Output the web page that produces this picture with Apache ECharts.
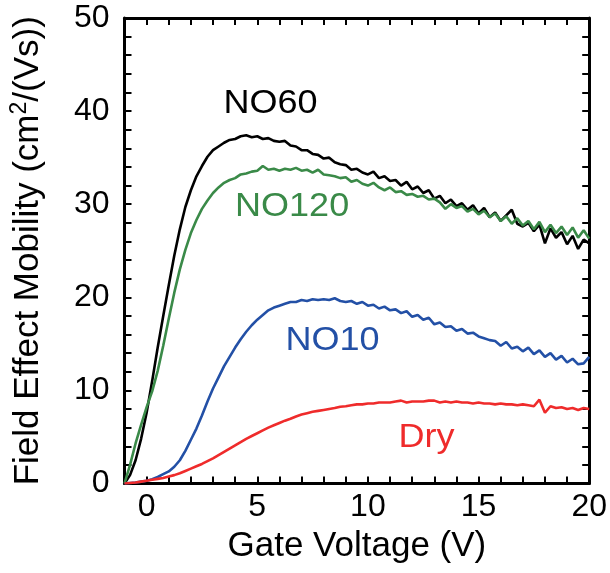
<!DOCTYPE html>
<html><head><meta charset="utf-8">
<script src="https://cdn.jsdelivr.net/npm/echarts@6/dist/echarts.min.js"></script>
<style>html,body{margin:0;padding:0;background:#fff}#c{width:610px;height:573px}</style>
</head><body><div id="c"></div>
<script>
// Gate voltage (V)
const gateVoltage = [
  -1, -0.75, -0.5, -0.25,
  0, 0.25, 0.5, 0.75,
  1, 1.25, 1.5, 1.75,
  2, 2.25, 2.5, 2.75,
  3, 3.25, 3.5, 3.75,
  4, 4.25, 4.5, 4.75,
  5, 5.25, 5.5, 5.75,
  6, 6.25, 6.5, 6.75,
  7, 7.25, 7.5, 7.75,
  8, 8.25, 8.5, 8.75,
  9, 9.25, 9.5, 9.75,
  10, 10.25, 10.5, 10.75,
  11, 11.25, 11.5, 11.75,
  12, 12.25, 12.5, 12.75,
  13, 13.25, 13.5, 13.75,
  14, 14.25, 14.5, 14.75,
  15, 15.25, 15.5, 15.75,
  16, 16.25, 16.5, 16.75,
  17, 17.25, 17.5, 17.75,
  18, 18.25, 18.5, 18.75,
  19, 19.25, 19.5, 19.75,
  20
];
// Field effect mobility (cm2/(Vs))
const no60 = [
  0, 0.9, 2.5, 4.8,
  7.6, 11.0, 14.6, 18.0,
  21.3, 24.5, 27.3, 29.7,
  31.5, 33.0, 34.1, 35.1,
  35.8, 36.2, 36.6, 36.9,
  37.0, 37.3, 37.4, 37.2,
  37.3, 37.0, 37.1, 36.8,
  36.7, 36.8, 36.3, 36.2,
  35.8, 35.8, 35.4, 35.3,
  34.9, 35.0, 34.5, 34.3,
  34.2, 33.7, 33.8, 33.4,
  33.2, 33.5, 32.8, 33.0,
  32.5, 32.6, 32.0, 32.4,
  31.6, 31.9, 31.2, 31.5,
  30.6, 30.9, 30.1, 30.5,
  29.8, 30.1, 29.4, 29.9,
  29.0, 29.6, 28.6, 29.1,
  28.2, 28.8, 29.4, 27.9,
  27.6, 28.0, 27.1, 27.8,
  25.8, 27.4, 26.4, 27.0,
  25.7, 26.6, 25.2, 26.2,
  25.8
];
const no120 = [
  0, 2.0, 4.3, 6.3,
  8.2, 9.9, 12.1, 14.8,
  17.7, 20.5, 23.0, 25.1,
  26.9, 28.3, 29.5, 30.4,
  31.2, 31.8, 32.3, 32.6,
  32.8, 33.2, 33.3, 33.5,
  33.6, 34.1, 33.7, 33.8,
  33.6, 33.8, 33.7, 33.9,
  33.6, 33.7, 33.4, 33.7,
  33.2, 33.1, 33.0, 32.8,
  32.9, 32.4, 32.6, 32.2,
  32.0, 32.3, 31.8, 31.5,
  31.8, 31.3, 31.4, 31.0,
  31.1, 30.8, 30.9, 30.5,
  30.6, 30.2, 29.5, 30.0,
  29.6, 29.8, 29.2, 29.5,
  28.9, 29.3, 28.6, 29.0,
  28.2, 28.7, 27.9, 28.5,
  27.7, 28.2, 27.3, 28.1,
  27.0, 27.8, 26.9, 27.6,
  26.7, 27.5, 26.4, 27.2,
  26.3
];
const no10 = [
  0, 0.05, 0.1, 0.2,
  0.3, 0.45, 0.7, 1.0,
  1.3, 1.8, 2.5, 3.5,
  4.7, 5.9, 7.3, 8.8,
  10.2, 11.4, 12.6, 13.6,
  14.6, 15.5, 16.3, 17.0,
  17.6, 18.1, 18.6, 18.9,
  19.1, 19.3, 19.5, 19.5,
  19.7, 19.6, 19.8, 19.7,
  19.8, 19.7, 19.9, 19.6,
  19.5, 19.6, 19.3, 19.5,
  19.1, 19.2, 18.8, 19.0,
  18.6, 18.7, 18.3, 18.5,
  17.9, 18.1, 17.6, 17.8,
  17.1, 17.3, 16.8, 16.9,
  16.4, 16.6, 16.1, 16.2,
  15.8, 15.6, 15.4, 15.3,
  14.8, 15.2, 14.5, 14.7,
  14.2, 14.6, 13.9, 14.3,
  13.6, 14.0, 13.3, 13.7,
  13.0, 13.4, 12.8, 12.9,
  13.6
];
const dry = [
  0, 0.05, 0.1, 0.2,
  0.3, 0.4, 0.5, 0.6,
  0.75, 0.9, 1.1, 1.35,
  1.6, 1.85, 2.1, 2.4,
  2.7, 3.05, 3.4, 3.75,
  4.1, 4.45, 4.8, 5.1,
  5.4, 5.7, 6.0, 6.25,
  6.5, 6.75, 6.95, 7.2,
  7.4, 7.55, 7.7, 7.8,
  7.9, 8.0, 8.1, 8.25,
  8.3, 8.4, 8.5, 8.5,
  8.6, 8.6, 8.7, 8.7,
  8.7, 8.8, 8.9, 8.7,
  8.8, 8.8, 8.8, 8.9,
  8.9, 8.7, 8.8, 8.7,
  8.8, 8.7, 8.7, 8.6,
  8.7, 8.6, 8.6, 8.5,
  8.6, 8.5, 8.5, 8.4,
  8.5, 8.4, 8.3, 9.0,
  7.6, 8.3, 8.1, 8.2,
  8.0, 8.1, 7.9, 8.1,
  8.0
];
const seriesNames = ['NO60', 'NO120', 'NO10', 'Dry'];
const xTickLabels = [0, 5, 10, 15, 20];
const yTickLabels = [0, 10, 20, 30, 40, 50];
const xTitle = 'Gate Voltage (V)';
const yTitleParts = ['Field Effect Mobility (cm', '2', '/(Vs))'];

// ---- styling ----
const FONT = '"Liberation Sans", Arial, Helvetica, sans-serif';
const colors = { NO60: '#000000', NO120: '#3a8a48', NO10: '#2350a6', Dry: '#ef2b2b' };
const seriesValues = { NO60: no60, NO120: no120, NO10: no10, Dry: dry };
const labelSpots = {
  NO60: [223.5, 104], NO120: [235, 207], NO10: [285.5, 340.5], Dry: [398.5, 437.5]
};

const chart = echarts.init(document.getElementById('c'), null, { renderer: 'canvas' });
const frameLine = { show: true, onZero: false, lineStyle: { color: '#000', width: 3 } };
const tick = { show: true, inside: true, length: 7, lineStyle: { color: '#000', width: 2 } };
const labelStyle = { color: '#000', fontSize: 32, fontFamily: FONT };

const option = {
  animation: false,
  backgroundColor: '#fff',
  grid: { left: 124.5, right: 20.3, top: 18, bottom: 89.5, containLabel: false },
  xAxis: [
    {
      type: 'value', position: 'bottom', min: -1, max: 20, interval: 1,
      axisLine: frameLine, axisTick: tick, splitLine: { show: false },
      axisLabel: Object.assign({ margin: 8, formatter: v => xTickLabels.includes(v) ? String(v) : '' }, labelStyle),
      name: xTitle, nameLocation: 'middle', nameGap: 44,
      nameTextStyle: { color: '#000', fontSize: 35, fontFamily: FONT }
    },
    {
      type: 'value', position: 'top', min: -1, max: 20, interval: 1,
      axisLine: frameLine, axisTick: tick, splitLine: { show: false }, axisLabel: { show: false }
    }
  ],
  yAxis: [
    {
      type: 'value', position: 'left', min: 0, max: 50, interval: 2,
      axisLine: frameLine, axisTick: tick, splitLine: { show: false },
      axisLabel: Object.assign({ margin: 15, formatter: v => yTickLabels.includes(v) ? String(v) : '' }, labelStyle),
      name: '{n|' + yTitleParts[0] + '}{s|' + yTitleParts[1] + '}{n|' + yTitleParts[2] + '}',
      nameLocation: 'middle', nameGap: 76,
      nameTextStyle: {
        color: '#000', fontSize: 35, fontFamily: FONT,
        rich: {
          n: { fontSize: 35, fontFamily: FONT, color: '#000', lineHeight: 40 },
          s: { fontSize: 23, fontFamily: FONT, color: '#000', verticalAlign: 'top', lineHeight: 40, padding: [0, 0, 14, 0] }
        }
      }
    },
    {
      type: 'value', position: 'right', min: 0, max: 50, interval: 2,
      axisLine: frameLine, axisTick: tick, splitLine: { show: false }, axisLabel: { show: false }
    }
  ],
  series: seriesNames.map(name => ({
    name, type: 'line', xAxisIndex: 0, yAxisIndex: 0,
    showSymbol: false, symbol: 'none', smooth: false, clip: true,
    lineStyle: { color: colors[name], width: 2.6 },
    itemStyle: { color: colors[name] },
    data: gateVoltage.map((x, i) => [x, seriesValues[name][i]])
  })),
  graphic: seriesNames.map(name => ({
    type: 'text', x: labelSpots[name][0], y: labelSpots[name][1], scaleX: 1.06,
    style: { text: name, fill: colors[name], font: '34px ' + FONT, align: 'left', verticalAlign: 'middle' }
  }))
};
chart.setOption(option);
</script>
</body></html>
